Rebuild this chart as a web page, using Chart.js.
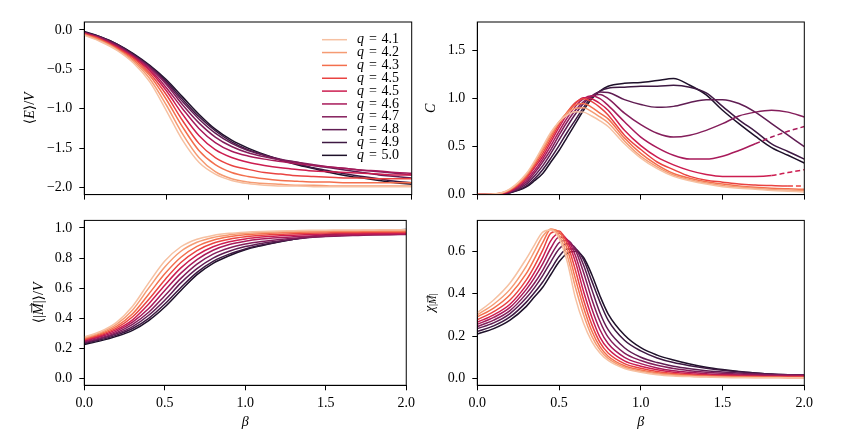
<!DOCTYPE html>
<html>
<head>
<meta charset="utf-8">
<script src="https://cdn.jsdelivr.net/npm/chart.js@4.4.1/dist/chart.umd.min.js"></script>
<style>
  body { margin: 0; background: #fff; }
  canvas { position: absolute; }
</style>
</head>
<body>
<canvas id="cE" width="420" height="210" style="left:0;top:0"></canvas>
<canvas id="cC" width="427" height="210" style="left:420px;top:0"></canvas>
<canvas id="cM" width="420" height="234" style="left:0;top:205px"></canvas>
<canvas id="cX" width="427" height="234" style="left:420px;top:205px"></canvas>
<script>
// coarse grid for the smooth curves, finer one around the peaks
const beta = [0, 0.1, 0.2, 0.3, 0.4, 0.5, 0.6, 0.7, 0.8, 0.9, 1.0,
              1.1, 1.2, 1.3, 1.4, 1.5, 1.6, 1.7, 1.8, 1.9, 2.0];
const betaFine = [0, 0.1, 0.2, 0.3, 0.35, 0.4, 0.45, 0.5, 0.55, 0.6, 0.65, 0.7, 0.75, 0.8, 0.9, 1.0,
                  1.1, 1.2, 1.3, 1.4, 1.5, 1.6, 1.7, 1.8, 1.9, 2.0];
const qLabels = ['4.1', '4.2', '4.3', '4.5', '4.5', '4.6', '4.7', '4.8', '4.9', '5.0'];

// <E>/V, one row per q (on beta)
const energy = [
  [-0.07,-0.15,-0.26,-0.42,-0.66,-1.02,-1.40,-1.68,-1.83,-1.91,-1.95,-1.97,-1.98,-1.98,-1.99,-1.99,-1.99,-1.99,-1.99,-1.99,-1.99],
  [-0.06,-0.14,-0.25,-0.40,-0.62,-0.95,-1.32,-1.62,-1.80,-1.89,-1.93,-1.95,-1.96,-1.97,-1.97,-1.98,-1.98,-1.98,-1.98,-1.98,-1.98],
  [-0.06,-0.13,-0.24,-0.38,-0.58,-0.88,-1.23,-1.53,-1.71,-1.81,-1.86,-1.89,-1.91,-1.92,-1.93,-1.93,-1.94,-1.94,-1.94,-1.94,-1.94],
  [-0.05,-0.12,-0.23,-0.36,-0.55,-0.82,-1.15,-1.44,-1.62,-1.72,-1.77,-1.81,-1.83,-1.85,-1.86,-1.87,-1.88,-1.88,-1.89,-1.89,-1.89],
  [-0.05,-0.12,-0.22,-0.35,-0.52,-0.77,-1.07,-1.34,-1.52,-1.62,-1.68,-1.72,-1.75,-1.77,-1.79,-1.80,-1.81,-1.82,-1.83,-1.84,-1.84],
  [-0.04,-0.11,-0.21,-0.34,-0.50,-0.73,-1.00,-1.25,-1.43,-1.54,-1.60,-1.64,-1.67,-1.70,-1.72,-1.74,-1.76,-1.78,-1.79,-1.81,-1.82],
  [-0.04,-0.10,-0.20,-0.33,-0.48,-0.69,-0.95,-1.18,-1.36,-1.48,-1.56,-1.61,-1.65,-1.68,-1.71,-1.74,-1.76,-1.78,-1.80,-1.82,-1.84],
  [-0.03,-0.10,-0.19,-0.32,-0.47,-0.67,-0.91,-1.13,-1.31,-1.44,-1.53,-1.59,-1.64,-1.68,-1.72,-1.75,-1.78,-1.81,-1.84,-1.86,-1.88],
  [-0.03,-0.09,-0.18,-0.31,-0.46,-0.65,-0.88,-1.10,-1.28,-1.42,-1.52,-1.59,-1.65,-1.70,-1.75,-1.79,-1.83,-1.86,-1.89,-1.92,-1.94],
  [-0.02,-0.09,-0.18,-0.30,-0.45,-0.63,-0.85,-1.07,-1.26,-1.40,-1.50,-1.58,-1.65,-1.71,-1.76,-1.81,-1.85,-1.88,-1.91,-1.94,-1.96]
];

// specific heat C (on betaFine)
const heat = [
  [0, 0.005, 0.06, 0.22, 0.35, 0.50, 0.65, 0.76, 0.83, 0.865, 0.86, 0.82, 0.77, 0.71, 0.53, 0.38, 0.27, 0.19, 0.145, 0.11, 0.083, 0.066, 0.056, 0.042, 0.035, 0.028],
  [0, 0.005, 0.055, 0.21, 0.335, 0.48, 0.63, 0.76, 0.85, 0.90, 0.905, 0.865, 0.81, 0.75, 0.56, 0.40, 0.29, 0.205, 0.155, 0.12, 0.095, 0.078, 0.066, 0.054, 0.047, 0.042],
  [0, 0.004, 0.05, 0.20, 0.32, 0.46, 0.61, 0.75, 0.86, 0.935, 0.95, 0.91, 0.85, 0.79, 0.59, 0.43, 0.31, 0.22, 0.17, 0.135, 0.11, 0.09, 0.076, 0.066, 0.06, 0.055],
  [0, 0.004, 0.045, 0.18, 0.30, 0.43, 0.58, 0.73, 0.86, 0.96, 1.0, 0.97, 0.91, 0.83, 0.62, 0.47, 0.34, 0.26, 0.19, 0.15, 0.13, 0.11, 0.10, 0.094, 0.09, 0.09],
  [0, 0.004, 0.04, 0.17, 0.28, 0.40, 0.55, 0.70, 0.84, 0.95, 1.01, 1.0, 0.95, 0.88, 0.67, 0.51, 0.39, 0.31, 0.25, 0.21, 0.19, 0.19, 0.19, 0.20, 0.23, 0.26],
  [0, 0.003, 0.035, 0.15, 0.25, 0.37, 0.51, 0.66, 0.80, 0.92, 1.0, 1.03, 1.0, 0.93, 0.76, 0.60, 0.49, 0.41, 0.37, 0.37, 0.40, 0.46, 0.53, 0.60, 0.66, 0.71],
  [0, 0.003, 0.03, 0.13, 0.225, 0.34, 0.47, 0.62, 0.76, 0.88, 0.97, 1.03, 1.045, 1.0, 0.85, 0.73, 0.64, 0.60, 0.62, 0.67, 0.74, 0.82, 0.86, 0.88, 0.86, 0.81],
  [0, 0.003, 0.025, 0.11, 0.195, 0.30, 0.43, 0.57, 0.71, 0.84, 0.95, 1.03, 1.07, 1.065, 0.99, 0.94, 0.91, 0.92, 0.96, 0.99, 0.99, 0.95, 0.86, 0.74, 0.62, 0.50],
  [0, 0.002, 0.02, 0.09, 0.165, 0.26, 0.38, 0.51, 0.65, 0.78, 0.91, 1.02, 1.08, 1.11, 1.12, 1.13, 1.13, 1.14, 1.12, 1.06, 0.92, 0.78, 0.66, 0.53, 0.45, 0.37],
  [0, 0.002, 0.02, 0.08, 0.145, 0.22, 0.34, 0.46, 0.60, 0.74, 0.88, 1.0, 1.08, 1.13, 1.16, 1.17, 1.19, 1.21, 1.14, 1.04, 0.88, 0.74, 0.61, 0.49, 0.41, 0.33]
];
const heatDashFrom = [null, null, null, 1.9, 1.8, 1.7, null, null, null, null];

// <|M|>/V (on beta)
const magnet = [
  [0.276, 0.312, 0.373, 0.48, 0.635, 0.78, 0.875, 0.925, 0.95, 0.964, 0.972, 0.977, 0.98, 0.982, 0.984, 0.985, 0.986, 0.987, 0.987, 0.988, 0.988],
  [0.27, 0.305, 0.36, 0.455, 0.60, 0.74, 0.845, 0.905, 0.937, 0.954, 0.964, 0.97, 0.974, 0.977, 0.979, 0.98, 0.981, 0.982, 0.983, 0.983, 0.984],
  [0.264, 0.298, 0.347, 0.43, 0.56, 0.695, 0.805, 0.877, 0.918, 0.941, 0.954, 0.962, 0.967, 0.97, 0.973, 0.975, 0.976, 0.977, 0.978, 0.978, 0.979],
  [0.259, 0.291, 0.335, 0.41, 0.525, 0.655, 0.77, 0.85, 0.898, 0.925, 0.941, 0.951, 0.957, 0.962, 0.965, 0.967, 0.969, 0.97, 0.971, 0.972, 0.972],
  [0.254, 0.284, 0.325, 0.39, 0.495, 0.62, 0.735, 0.82, 0.875, 0.908, 0.927, 0.939, 0.947, 0.952, 0.956, 0.959, 0.961, 0.962, 0.963, 0.964, 0.965],
  [0.248, 0.277, 0.315, 0.375, 0.465, 0.585, 0.70, 0.79, 0.852, 0.89, 0.912, 0.926, 0.935, 0.941, 0.946, 0.95, 0.953, 0.955, 0.956, 0.957, 0.958],
  [0.243, 0.27, 0.305, 0.36, 0.44, 0.55, 0.665, 0.76, 0.826, 0.867, 0.893, 0.91, 0.922, 0.931, 0.938, 0.943, 0.947, 0.95, 0.953, 0.955, 0.956],
  [0.238, 0.264, 0.297, 0.345, 0.42, 0.52, 0.635, 0.73, 0.80, 0.845, 0.876, 0.897, 0.912, 0.925, 0.936, 0.945, 0.952, 0.957, 0.961, 0.963, 0.965],
  [0.232, 0.257, 0.288, 0.332, 0.40, 0.495, 0.605, 0.705, 0.778, 0.826, 0.86, 0.886, 0.907, 0.925, 0.94, 0.952, 0.962, 0.969, 0.975, 0.979, 0.983],
  [0.226, 0.25, 0.28, 0.32, 0.385, 0.475, 0.585, 0.69, 0.765, 0.815, 0.855, 0.882, 0.905, 0.925, 0.942, 0.955, 0.965, 0.973, 0.98, 0.986, 0.99]
];

// susceptibility chi_|M| (on betaFine)
const chi = [
  [0.31, 0.37, 0.45, 0.565, 0.63, 0.69, 0.70, 0.66, 0.55, 0.38, 0.26, 0.175, 0.12, 0.085, 0.047, 0.03, 0.018, 0.012, 0.009, 0.007, 0.005, 0.004, 0.004, 0.003, 0.003, 0.003],
  [0.30, 0.35, 0.42, 0.53, 0.60, 0.67, 0.705, 0.675, 0.58, 0.43, 0.30, 0.20, 0.135, 0.095, 0.053, 0.034, 0.022, 0.015, 0.011, 0.009, 0.007, 0.006, 0.005, 0.005, 0.004, 0.004],
  [0.29, 0.332, 0.395, 0.495, 0.565, 0.64, 0.703, 0.69, 0.61, 0.47, 0.335, 0.225, 0.15, 0.105, 0.06, 0.04, 0.027, 0.019, 0.014, 0.011, 0.009, 0.008, 0.007, 0.006, 0.005, 0.005],
  [0.277, 0.315, 0.37, 0.465, 0.53, 0.605, 0.685, 0.695, 0.635, 0.51, 0.37, 0.255, 0.17, 0.12, 0.07, 0.048, 0.033, 0.024, 0.018, 0.014, 0.011, 0.01, 0.009, 0.008, 0.007, 0.007],
  [0.265, 0.30, 0.35, 0.44, 0.50, 0.57, 0.65, 0.684, 0.65, 0.55, 0.41, 0.29, 0.195, 0.14, 0.083, 0.058, 0.041, 0.03, 0.023, 0.018, 0.015, 0.013, 0.011, 0.01, 0.01, 0.009],
  [0.255, 0.288, 0.335, 0.42, 0.475, 0.54, 0.615, 0.667, 0.655, 0.58, 0.455, 0.33, 0.23, 0.165, 0.10, 0.07, 0.05, 0.037, 0.029, 0.023, 0.019, 0.016, 0.014, 0.013, 0.012, 0.012],
  [0.245, 0.275, 0.32, 0.40, 0.45, 0.51, 0.58, 0.64, 0.652, 0.605, 0.50, 0.375, 0.27, 0.195, 0.12, 0.085, 0.062, 0.047, 0.037, 0.03, 0.025, 0.021, 0.019, 0.017, 0.016, 0.015],
  [0.235, 0.262, 0.306, 0.38, 0.428, 0.485, 0.55, 0.61, 0.635, 0.615, 0.535, 0.42, 0.31, 0.23, 0.145, 0.10, 0.075, 0.058, 0.046, 0.037, 0.031, 0.026, 0.022, 0.02, 0.018, 0.017],
  [0.222, 0.248, 0.29, 0.36, 0.405, 0.455, 0.515, 0.575, 0.61, 0.61, 0.56, 0.46, 0.36, 0.275, 0.18, 0.13, 0.097, 0.075, 0.06, 0.048, 0.039, 0.032, 0.026, 0.021, 0.018, 0.016],
  [0.21, 0.235, 0.275, 0.34, 0.385, 0.43, 0.49, 0.55, 0.59, 0.60, 0.57, 0.49, 0.39, 0.305, 0.205, 0.145, 0.11, 0.087, 0.068, 0.053, 0.042, 0.033, 0.026, 0.02, 0.016, 0.013]
];

const xTicks = [0, 0.5, 1, 1.5, 2];
const eTicks = [-2, -1.5, -1, -0.5, 0];
const cTicks = [0, 0.5, 1, 1.5];
const mTicks = [0, 0.2, 0.4, 0.6, 0.8, 1.0];
const chiTicks = [0, 0.2, 0.4, 0.6];

// rocket_r, light to dark
const colors = ['#f6c1a2', '#f59b73', '#f36f4d', '#e94341', '#cc1d50',
                '#a81a5a', '#841e5b', '#601d53', '#3e1943', '#1e112a'];

const FONT = "'Liberation Serif', 'DejaVu Serif', serif";
const FS = 14;
Chart.defaults.color = '#000';
Chart.defaults.font.family = FONT;
Chart.defaults.font.size = FS;

const fmt = v => (v < 0 ? '\u2212' : '') + Math.abs(v).toFixed(1);

const framePlugin = {
  id: 'frame',
  afterDraw(chart, args, o) {
    const ctx = chart.ctx, a = chart.chartArea;
    ctx.save();
    ctx.strokeStyle = '#000';
    ctx.lineWidth = 1;
    ctx.strokeRect(a.left, a.top, a.right - a.left, a.bottom - a.top);

    // y axis label, drawn in pieces so it can carry a subscript and a vector arrow
    if (o.yTitle) {
      ctx.translate(o.yTitle.x, (a.top + a.bottom) / 2);
      ctx.rotate(-Math.PI / 2);
      ctx.textBaseline = 'middle';
      ctx.fillStyle = '#000';
      const setFont = p => { ctx.font = (p.italic ? 'italic ' : '') + p.size + 'px ' + FONT; };
      let total = 0;
      o.yTitle.parts.forEach(p => { setFont(p); total += ctx.measureText(p.t).width; });
      let x = -total / 2;
      o.yTitle.parts.forEach(p => {
        setFont(p);
        const w = ctx.measureText(p.t).width;
        const dy = p.dy || 0;
        ctx.fillText(p.t, x, dy);
        if (p.arrow) {
          const ay = dy - p.size * 0.52, x0 = x + w * 0.2, x1 = x + w * 1.0, h = p.size * 0.13;
          ctx.strokeStyle = '#000';
          ctx.lineWidth = 0.8;
          ctx.beginPath();
          ctx.moveTo(x0, ay); ctx.lineTo(x1, ay);
          ctx.moveTo(x1 - h * 1.4, ay - h); ctx.lineTo(x1, ay); ctx.lineTo(x1 - h * 1.4, ay + h);
          ctx.stroke();
        }
        x += w;
      });
      ctx.setTransform(1, 0, 0, 1, 0, 0);
    }

    if (o.legend) {
      chart.data.datasets.forEach((ds, i) => {
        const y = 39.7 + i * 12.85;
        ctx.strokeStyle = ds.borderColor;
        ctx.lineWidth = 1.5;
        ctx.beginPath();
        ctx.moveTo(322, y);
        ctx.lineTo(347, y);
        ctx.stroke();
        ctx.fillStyle = '#000';
        ctx.textBaseline = 'middle';
        ctx.font = 'italic ' + FS + 'px ' + FONT;
        ctx.fillText('q', 357, y);
        ctx.font = FS + 'px ' + FONT;
        ctx.fillText('=', 369, y);
        ctx.fillText(qLabels[i], 381.5, y);
      });
    }
    ctx.restore();
  }
};

function makeChart(id, xs, rows, cfg) {
  const datasets = rows.map((r, i) => {
    const ds = {
      label: 'q = ' + qLabels[i],
      data: xs.map((b, j) => ({ x: b, y: r[j] })),
      borderColor: colors[i],
      borderWidth: 1.5,
      pointRadius: 0,
      cubicInterpolationMode: 'monotone',
      fill: false
    };
    if (cfg.dashFrom && cfg.dashFrom[i] != null) {
      const from = cfg.dashFrom[i];
      ds.segment = { borderDash: c => (c.p0.parsed.x >= from - 1e-6 ? [5, 3] : undefined) };
    }
    return ds;
  });
  const tickGrid = { display: true, drawOnChartArea: false, drawTicks: true, tickLength: 5, color: '#000', lineWidth: 1 };
  return new Chart(document.getElementById(id), {
    type: 'line',
    data: { datasets },
    options: {
      responsive: false,
      animation: false,
      events: [],
      layout: { padding: cfg.padding },
      plugins: {
        legend: { display: false },
        tooltip: { enabled: false },
        frame: { yTitle: cfg.yTitle, legend: cfg.legend }
      },
      scales: {
        x: {
          type: 'linear', min: 0, max: 2,
          grid: tickGrid,
          border: { display: true, color: '#000', width: 1 },
          afterBuildTicks: s => { s.ticks = xTicks.map(v => ({ value: v })); },
          afterFit: s => { s.height = cfg.xHeight; },
          ticks: { display: cfg.xLabels, padding: 5, maxRotation: 0, callback: v => fmt(v) },
          title: { display: cfg.xLabels, text: '\u03b2', font: { style: 'italic', size: FS }, padding: { top: 0, bottom: 8 } }
        },
        y: {
          type: 'linear', min: cfg.yMin, max: cfg.yMax,
          grid: tickGrid,
          border: { display: true, color: '#000', width: 1 },
          afterBuildTicks: s => { s.ticks = cfg.yTicks.map(v => ({ value: v })); },
          afterFit: s => { s.width = cfg.yWidth; },
          ticks: { padding: 7, callback: v => fmt(v) }
        }
      }
    },
    plugins: [framePlugin]
  });
}

makeChart('cE', beta, energy, {
  padding: { top: 22, right: 8.3, left: 0, bottom: 0 },
  xHeight: 15.3, yWidth: 84.3, xLabels: false,
  yMin: -2.09, yMax: 0.1, yTicks: eTicks, legend: true,
  yTitle: { x: 30, parts: [{ t: '\u27e8', size: FS }, { t: 'E', size: FS, italic: true }, { t: '\u27e9/', size: FS }, { t: 'V', size: FS, italic: true }] }
});
makeChart('cC', betaFine, heat, {
  padding: { top: 22, right: 42.7, left: 0, bottom: 0 },
  xHeight: 15.3, yWidth: 57.3, xLabels: false,
  yMin: 0, yMax: 1.8, yTicks: cTicks, dashFrom: heatDashFrom,
  yTitle: { x: 11, parts: [{ t: 'C', size: FS, italic: true }] }
});
makeChart('cM', beta, magnet, {
  padding: { top: 7.7, right: 8.3, left: 0, bottom: 0 },
  xHeight: 53.7, yWidth: 84.3, xLabels: true,
  yMin: -0.045, yMax: 1.05, yTicks: mTicks,
  yTitle: { x: 39, parts: [{ t: '\u27e8|', size: FS }, { t: 'M', size: FS, italic: true, arrow: true }, { t: '|\u27e9/', size: FS }, { t: 'V', size: FS, italic: true }] }
});
makeChart('cX', betaFine, chi, {
  padding: { top: 7.7, right: 42.7, left: 0, bottom: 0 },
  xHeight: 53.7, yWidth: 57.3, xLabels: true,
  yMin: -0.032, yMax: 0.745, yTicks: chiTicks,
  yTitle: { x: 10, parts: [{ t: '\u03c7', size: FS, italic: true }, { t: '|', size: 10, dy: 3 }, { t: 'M', size: 10, italic: true, dy: 3, arrow: true }, { t: '|', size: 10, dy: 3 }] }
});
</script>
</body>
</html>
